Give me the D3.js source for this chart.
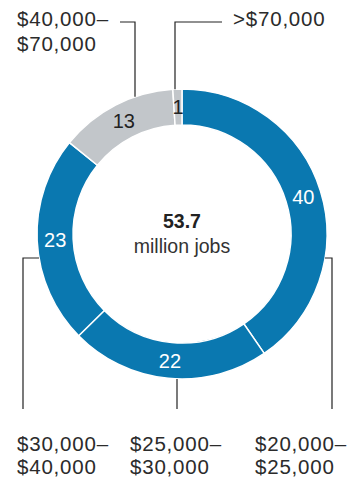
<!DOCTYPE html>
<html>
<head>
<meta charset="utf-8">
<script src="https://cdn.jsdelivr.net/npm/d3@7"></script>
<style>
  html, body { margin: 0; padding: 0; background: #fff; }
  svg { display: block; font-family: "Liberation Sans", Arial, sans-serif; }
</style>
</head>
<body>
<div class="canvas"></div>
<script>
// data
const categories = ["$20,000–$25,000", "$25,000–$30,000", "$30,000–$40,000", "$40,000–$70,000", ">$70,000"];
const values = [40, 22, 23, 13, 1];
const labelLines = [
  ["$20,000–", "$25,000"],
  ["$25,000–", "$30,000"],
  ["$30,000–", "$40,000"],
  ["$40,000–", "$70,000"],
  [">$70,000"]
];
const totalValue = "53.7";
const totalUnit = "million jobs";

// dimensions
const w = 362;
const h = 483;
const cx = 182;
const cy = 234;
const outerR = 145;
const innerR = 109;

const blue = "#0a78b0";
const grey = "#c2c6ca";
const segColors = [blue, blue, blue, grey, grey];
const numColors = ["#fff", "#fff", "#fff", "#222", "#222"];
const ink = "#222";
const textInk = "#2b2b2b";

const svg = d3.select(".canvas").append("svg").attr("width", w).attr("height", h);

const ring = svg.append("g").attr("transform", `translate(${cx}, ${cy})`);

const pie = d3.pie().sort(null).value((d) => d);
const arc = d3.arc().innerRadius(innerR).outerRadius(outerR);
const arcs = pie(values);

// donut slices
ring
  .selectAll("path")
  .data(arcs)
  .enter()
  .append("path")
  .attr("d", arc)
  .attr("fill", (d, i) => segColors[i])
  .attr("stroke", "#fff")
  .attr("stroke-width", 1.5);

// numbers on the ring
ring
  .selectAll("text.num")
  .data(arcs)
  .enter()
  .append("text")
  .attr("class", "num")
  .attr("x", (d) => arc.centroid(d)[0])
  .attr("y", (d) => arc.centroid(d)[1])
  .attr("dy", "0.36em")
  .attr("text-anchor", "middle")
  .attr("font-size", 20)
  .attr("fill", (d, i) => numColors[i])
  .text((d) => d.data);

// centre text
svg.append("text")
  .attr("x", cx).attr("y", 228)
  .attr("text-anchor", "middle")
  .attr("font-size", 19.5).attr("font-weight", "bold")
  .attr("fill", ink)
  .text(totalValue);
svg.append("text")
  .attr("x", cx).attr("y", 253)
  .attr("text-anchor", "middle")
  .attr("font-size", 19.5)
  .attr("fill", "#333")
  .text(totalUnit);

// point on outer edge of ring for a given x (top/bottom) or y (left/right)
const edgeY = (x, side) => cy + side * Math.sqrt(outerR * outerR - (x - cx) * (x - cx));
const edgeX = (y, side) => cx + side * Math.sqrt(outerR * outerR - (y - cy) * (y - cy));

// leader layout per category
const leaders = [
  { kind: "side", y: 258, side: 1, x: 332, end: 409, tx: 255, ty: 451, lh: 23 },
  { kind: "bottom", x: 177, end: 409, tx: 130, ty: 451, lh: 23 },
  { kind: "side", y: 258, side: -1, x: 23, end: 409, tx: 17, ty: 451, lh: 23 },
  { kind: "top", x: 135, end: 22, hx: 120, tx: 17, ty: 26, lh: 25 },
  { kind: "top", x: 175, end: 22, hx: 222, tx: 233, ty: 26, lh: 25 }
];

const line = d3.line();
const leaderPts = (l) => {
  if (l.kind === "side") {
    const x0 = edgeX(l.y, l.side);
    return [[x0, l.y], [l.x, l.y], [l.x, l.end]];
  }
  if (l.kind === "bottom") return [[l.x, edgeY(l.x, 1)], [l.x, l.end]];
  return [[l.x, edgeY(l.x, -1)], [l.x, l.end], [l.hx, l.end]];
};

svg.append("g")
  .selectAll("path")
  .data(leaders)
  .enter()
  .append("path")
  .attr("d", (l) => line(leaderPts(l)))
  .attr("fill", "none")
  .attr("stroke", ink)
  .attr("stroke-width", 1.2);

// category labels
const labels = svg.append("g")
  .selectAll("text")
  .data(leaders)
  .enter()
  .append("text")
  .attr("font-size", 20.5)
  .attr("letter-spacing", 0.8)
  .attr("fill", textInk);

labels
  .selectAll("tspan")
  .data((l, i) => labelLines[i].map((t) => ({ t, l })))
  .enter()
  .append("tspan")
  .attr("x", (d) => d.l.tx)
  .attr("y", (d, j) => d.l.ty + j * d.l.lh)
  .text((d) => d.t);
</script>
</body>
</html>
